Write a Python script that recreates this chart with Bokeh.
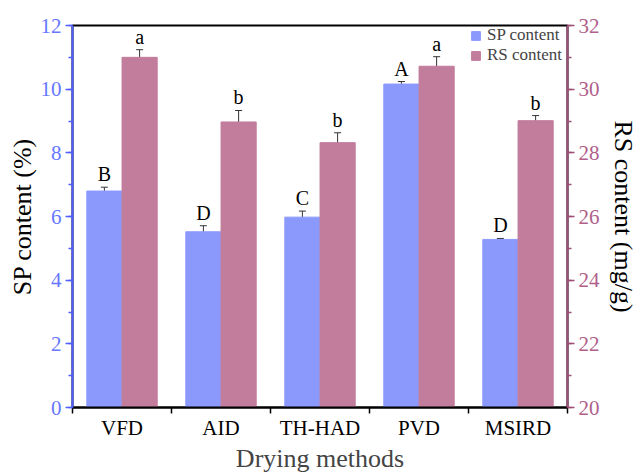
from bokeh.plotting import figure
from bokeh.models import (ColumnDataSource, Range1d, LinearAxis, FixedTicker, SingleIntervalTicker,
                          Whisker, Legend, LegendItem, TeeHead)
from bokeh.transform import dodge
from bokeh.core.properties import value
from bokeh.embed import file_html
from bokeh.resources import INLINE

methods = ["VFD", "AID", "TH-HAD", "PVD", "MSIRD"]
sp = [6.80, 5.52, 5.98, 10.16, 5.28]
sp_err = [0.12, 0.19, 0.19, 0.08, 0.03]
rs = [31.00, 28.97, 28.32, 30.72, 29.01]
rs_err = [0.24, 0.36, 0.31, 0.30, 0.16]
sp_letters = ["B", "D", "C", "A", "D"]
rs_letters = ["a", "b", "b", "a", "b"]

FONT = "Liberation Serif"
AFONT = "'Liberation Serif', serif"
SP_COL = "#8C99FC"
RS_COL = "#C27C9C"
LEFT_AX = "#4F5FFF"
LEFT_LBL = "#6677FF"
RIGHT_AX = "#9E4F78"
RIGHT_LBL = "#B0608A"

xs = [i + 0.5 for i in range(len(methods))]
src = ColumnDataSource(dict(
    x=xs, sp=sp, rs=rs,
    sp_up=[v + e for v, e in zip(sp, sp_err)], sp_lo=[v - e for v, e in zip(sp, sp_err)],
    rs_up=[v + e for v, e in zip(rs, rs_err)], rs_lo=[v - e for v, e in zip(rs, rs_err)],
    spl=sp_letters, rsl=rs_letters,
))

p = figure(width=640, height=475, x_range=Range1d(0, 5), y_range=Range1d(0, 12),
           output_backend="svg", toolbar_location=None,
           min_border_left=72, min_border_right=68, min_border_top=25, min_border_bottom=62)
p.extra_y_ranges = {"rs": Range1d(20, 32)}
p.xgrid.visible = False
p.ygrid.visible = False
p.outline_line_color = "black"
p.outline_line_width = 2
p.background_fill_color = "white"

bw = 0.355
off = 0.178
r_sp = p.vbar(x=dodge("x", -off), top="sp", bottom=0, width=bw, source=src,
              fill_color=SP_COL, line_color=SP_COL)
r_rs = p.vbar(x=dodge("x", off), top="rs", bottom=20, width=bw, source=src,
              fill_color=RS_COL, line_color=RS_COL, y_range_name="rs")

for up, lo, d, rn in [("sp_up", "sp_lo", -off, "default"), ("rs_up", "rs_lo", off, "rs")]:
    w = Whisker(base=dodge("x", d), upper=up, lower=lo, source=src, y_range_name=rn,
                line_color="#333333", line_width=1,
                upper_head=TeeHead(size=7, line_color="#333333", line_width=1),
                lower_head=TeeHead(size=7, line_color="#333333", line_width=1))
    p.add_layout(w)

p.text(x=dodge("x", -off), y="sp_up", text="spl", source=src, text_align="center",
       text_baseline="bottom", y_offset=-2, text_font=value(FONT), text_font_size="20px",
       text_color="black")
p.text(x=dodge("x", off), y="rs_up", text="rsl", source=src, text_align="center",
       text_baseline="bottom", y_offset=-2, text_font=value(FONT), text_font_size="20px",
       text_color="black", y_range_name="rs")

# bottom axis
xa = p.xaxis[0]
xa.ticker = FixedTicker(ticks=xs, minor_ticks=list(range(len(methods) + 1)))
xa.major_label_overrides = {x: m for x, m in zip(xs, methods)}
xa.major_tick_line_color = None
xa.minor_tick_line_color = "black"
xa.minor_tick_out = 6
xa.minor_tick_in = 0
xa.minor_tick_line_width = 1.5
xa.axis_line_width = 2
xa.axis_line_color = "black"
xa.major_label_text_font = AFONT
xa.major_label_text_font_size = "21px"
xa.major_label_text_color = "black"
xa.major_label_standoff = 2
xa.axis_label = "Drying methods"
xa.axis_label_text_font = AFONT
xa.axis_label_text_font_size = "26px"
xa.axis_label_text_font_style = "normal"
xa.axis_label_standoff = 1

# left axis
ya = p.yaxis[0]
ya.ticker = SingleIntervalTicker(interval=2, num_minor_ticks=2)
ya.axis_line_color = LEFT_AX
ya.axis_line_width = 2
ya.major_tick_line_color = LEFT_AX
ya.minor_tick_line_color = LEFT_AX
ya.major_tick_line_width = 1.5
ya.minor_tick_line_width = 1.5
ya.major_tick_out = 7
ya.major_tick_in = 0
ya.minor_tick_out = 4
ya.minor_tick_in = 0
ya.major_label_text_font = AFONT
ya.major_label_text_font_size = "21px"
ya.major_label_text_color = LEFT_LBL
ya.major_label_standoff = 4
ya.axis_label = "SP content (%)"
ya.axis_label_text_font = AFONT
ya.axis_label_text_font_size = "26px"
ya.axis_label_text_font_style = "normal"
ya.axis_label_text_color = "black"
ya.axis_label_standoff = 1

# right axis
ra = LinearAxis(y_range_name="rs", ticker=SingleIntervalTicker(interval=2, num_minor_ticks=2))
ra.axis_line_color = RIGHT_AX
ra.axis_line_width = 2
ra.major_tick_line_color = RIGHT_AX
ra.minor_tick_line_color = RIGHT_AX
ra.major_tick_line_width = 1.5
ra.minor_tick_line_width = 1.5
ra.major_tick_out = 7
ra.major_tick_in = 0
ra.minor_tick_out = 4
ra.minor_tick_in = 0
ra.major_label_text_font = AFONT
ra.major_label_text_font_size = "21px"
ra.major_label_text_color = RIGHT_LBL
ra.major_label_standoff = 4
ra.axis_label = "RS content (mg/g)"
ra.axis_label_text_font = AFONT
ra.axis_label_text_font_size = "26px"
ra.axis_label_text_font_style = "normal"
ra.axis_label_text_color = "black"
ra.axis_label_standoff = 6
p.add_layout(ra, "right")

legend = Legend(items=[LegendItem(label="SP content", renderers=[r_sp]),
                       LegendItem(label="RS content", renderers=[r_rs])],
                location="top_right", border_line_color=None, background_fill_alpha=0,
                label_text_font=FONT, label_text_font_size="17px",
                glyph_width=11, glyph_height=11, label_height=20, label_width=80, spacing=0,
                label_standoff=6, padding=6, margin=0)
p.add_layout(legend)

open("out.html", "w").write(file_html(p, INLINE))
